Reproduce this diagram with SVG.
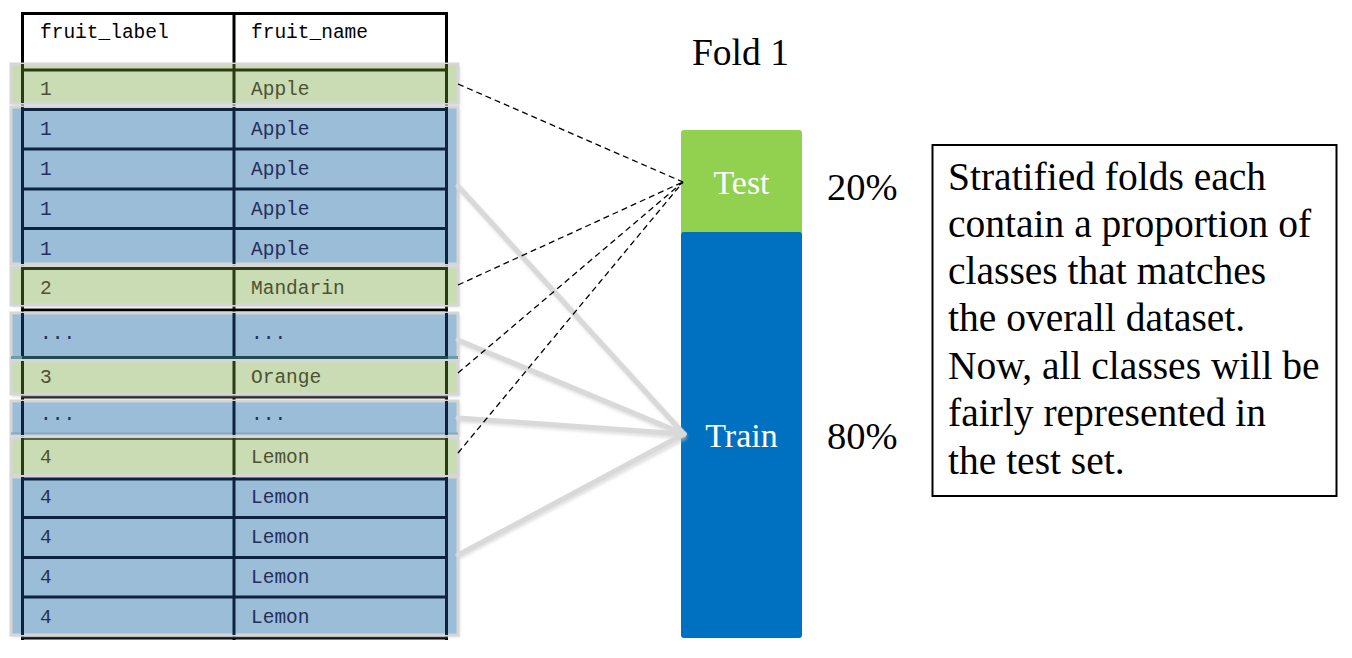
<svg xmlns="http://www.w3.org/2000/svg" width="1352" height="658" viewBox="0 0 1352 658">
<defs>
<style>
.mono{font-family:"Liberation Mono","Courier New",monospace;font-size:19.5px}
.serif{font-family:"Liberation Serif","Times New Roman",serif}
.gband{fill:#cadcb4;stroke:#d6d6d6;stroke-width:3}
.bband{fill:#9bbdd7;stroke:#d6d6d6;stroke-width:3}
.gl{stroke:#2c3a12;stroke-width:3}
.bl{stroke:#0c2440;stroke-width:3}
.kl{stroke:#000;stroke-width:3}
.gt{fill:#4c5232}
.bt{fill:#24305a}
.dash{stroke:#000;stroke-width:1.3;stroke-dasharray:6 4;fill:none}
.gray{stroke:#d9d9d9;stroke-width:5;fill:none;stroke-linecap:round}
.grayshadow{stroke:#bdbdbd;stroke-width:5;fill:none;opacity:0.45}
</style>
<filter id="sh" x="-5%" y="-5%" width="110%" height="110%">
<feGaussianBlur stdDeviation="1.5"/>
</filter>
</defs>
<rect width="1352" height="658" fill="#fff"/>

<!-- table background lines -->
<g id="header">
<rect x="22" y="12" width="425" height="52" fill="#fff"/>
<line class="kl" x1="21" y1="13.5" x2="448" y2="13.5"/>
<line class="kl" x1="22.5" y1="12" x2="22.5" y2="640"/>
<line class="kl" x1="234" y1="12" x2="234" y2="640"/>
<line class="kl" x1="446.5" y1="12" x2="446.5" y2="640"/>
<line class="kl" x1="21" y1="310" x2="448" y2="310"/>
<line class="kl" x1="21" y1="397" x2="448" y2="397"/>
<line class="kl" x1="21" y1="638" x2="448" y2="638"/>
<text class="mono" x="40" y="38" fill="#000">fruit_label</text>
<text class="mono" x="251" y="38" fill="#000">fruit_name</text>
</g>

<!-- band shadows -->
<g filter="url(#sh)" fill="#c8c8c8" opacity="0.6">
<rect x="12" y="66" width="448" height="40"/>
<rect x="12" y="109" width="448" height="157"/>
<rect x="12" y="268" width="448" height="39"/>
<rect x="12" y="315" width="448" height="47"/>
<rect x="12" y="364" width="448" height="33"/>
<rect x="12" y="403" width="448" height="34"/>
<rect x="12" y="440" width="448" height="37"/>
<rect x="12" y="479" width="448" height="158"/>
</g>

<g id="row-g1">
<rect class="gband" x="11" y="64" width="447" height="39"/>
<line class="gl" x1="22" y1="70" x2="448" y2="70"/>
<line class="gl" x1="22.5" y1="64" x2="22.5" y2="103"/>
<line class="gl" x1="234" y1="64" x2="234" y2="103"/>
<line class="gl" x1="446.5" y1="64" x2="446.5" y2="103"/>
<text class="mono gt" x="40" y="95">1</text>
<text class="mono gt" x="251" y="95">Apple</text>
</g>

<g id="row-b1">
<rect class="bband" x="11" y="107" width="447" height="157"/>
<line class="bl" x1="22" y1="109.5" x2="448" y2="109.5"/>
<line class="bl" x1="22" y1="149" x2="448" y2="149"/>
<line class="bl" x1="22" y1="189" x2="448" y2="189"/>
<line class="bl" x1="22" y1="228.5" x2="448" y2="228.5"/>
<line class="bl" x1="22.5" y1="107" x2="22.5" y2="264"/>
<line class="bl" x1="234" y1="107" x2="234" y2="264"/>
<line class="bl" x1="446.5" y1="107" x2="446.5" y2="264"/>
<text class="mono bt" x="40" y="135">1</text>
<text class="mono bt" x="251" y="135">Apple</text>
<text class="mono bt" x="40" y="175">1</text>
<text class="mono bt" x="251" y="175">Apple</text>
<text class="mono bt" x="40" y="215">1</text>
<text class="mono bt" x="251" y="215">Apple</text>
<text class="mono bt" x="40" y="255">1</text>
<text class="mono bt" x="251" y="255">Apple</text>
</g>

<g id="row-g2">
<rect class="gband" x="11" y="267" width="447" height="38"/>
<line class="gl" x1="22" y1="268.5" x2="448" y2="268.5"/>
<line class="gl" x1="22.5" y1="267" x2="22.5" y2="305"/>
<line class="gl" x1="234" y1="267" x2="234" y2="305"/>
<line class="gl" x1="446.5" y1="267" x2="446.5" y2="305"/>
<text class="mono gt" x="40" y="294">2</text>
<text class="mono gt" x="251" y="294">Mandarin</text>
</g>

<g id="row-b2">
<rect class="bband" x="11" y="313" width="447" height="47"/>
<line x1="11" y1="357.5" x2="458" y2="357.5" stroke="#6f9aa6" stroke-width="3"/>
<line x1="22" y1="357.5" x2="448" y2="357.5" stroke="#1f4a52" stroke-width="3"/>
<line class="bl" x1="22.5" y1="313" x2="22.5" y2="356"/>
<line class="bl" x1="234" y1="313" x2="234" y2="356"/>
<line class="bl" x1="446.5" y1="313" x2="446.5" y2="356"/>
<text class="mono bt" x="40" y="339">...</text>
<text class="mono bt" x="251" y="339">...</text>
</g>

<g id="row-g3">
<rect class="gband" x="11" y="361" width="447" height="33"/>
<line class="gl" x1="22.5" y1="361" x2="22.5" y2="394"/>
<line class="gl" x1="234" y1="361" x2="234" y2="394"/>
<line class="gl" x1="446.5" y1="361" x2="446.5" y2="394"/>
<text class="mono gt" x="40" y="383">3</text>
<text class="mono gt" x="251" y="383">Orange</text>
</g>

<g id="row-b3">
<rect class="bband" x="11" y="401" width="447" height="34"/>
<line x1="11" y1="433.5" x2="458" y2="433.5" stroke="#84a8be" stroke-width="2"/>
<line class="bl" x1="22.5" y1="401" x2="22.5" y2="435"/>
<line class="bl" x1="234" y1="401" x2="234" y2="435"/>
<line class="bl" x1="446.5" y1="401" x2="446.5" y2="435"/>
<text class="mono bt" x="40" y="420">...</text>
<text class="mono bt" x="251" y="420">...</text>
</g>

<g id="row-g4">
<rect class="gband" x="11" y="438" width="447" height="37"/>
<line x1="22" y1="439" x2="448" y2="439" stroke="#2c3a12" stroke-width="1.5"/>
<line class="gl" x1="22.5" y1="438" x2="22.5" y2="475"/>
<line class="gl" x1="234" y1="438" x2="234" y2="475"/>
<line class="gl" x1="446.5" y1="438" x2="446.5" y2="475"/>
<text class="mono gt" x="40" y="463">4</text>
<text class="mono gt" x="251" y="463">Lemon</text>
</g>

<g id="row-b4">
<rect class="bband" x="11" y="477" width="447" height="158"/>
<line class="bl" x1="22" y1="479" x2="448" y2="479"/>
<line class="bl" x1="22" y1="517.5" x2="448" y2="517.5"/>
<line class="bl" x1="22" y1="557.5" x2="448" y2="557.5"/>
<line class="bl" x1="22" y1="597" x2="448" y2="597"/>
<line class="bl" x1="22.5" y1="477" x2="22.5" y2="635"/>
<line class="bl" x1="234" y1="477" x2="234" y2="635"/>
<line class="bl" x1="446.5" y1="477" x2="446.5" y2="635"/>
<text class="mono bt" x="40" y="503">4</text>
<text class="mono bt" x="251" y="503">Lemon</text>
<text class="mono bt" x="40" y="543">4</text>
<text class="mono bt" x="251" y="543">Lemon</text>
<text class="mono bt" x="40" y="583">4</text>
<text class="mono bt" x="251" y="583">Lemon</text>
<text class="mono bt" x="40" y="623">4</text>
<text class="mono bt" x="251" y="623">Lemon</text>
</g>

<g id="fold-title">
<text class="serif" x="692" y="65" font-size="37.5" fill="#000">Fold 1</text>
</g>

<g id="test-box">
<rect x="681" y="130" width="121" height="106" rx="3" fill="#92d050"/>
<text class="serif" x="741.5" y="194" font-size="34" fill="#fff" text-anchor="middle">Test</text>
</g>
<g id="train-box">
<rect x="681" y="232" width="121" height="406" rx="3" fill="#0070c0"/>
<text class="serif" x="741.5" y="447" font-size="34" fill="#fff" text-anchor="middle">Train</text>
</g>

<g id="pct">
<text class="serif" x="827" y="200" font-size="38.5" fill="#000">20%</text>
<text class="serif" x="827" y="449" font-size="38.5" fill="#000">80%</text>
</g>

<g id="note">
<rect x="932.5" y="145" width="404" height="351" fill="#fff" stroke="#000" stroke-width="2"/>
<text class="serif" font-size="39.5" fill="#000">
<tspan x="948" y="190">Stratified folds each</tspan>
<tspan x="948" y="237">contain a proportion of</tspan>
<tspan x="948" y="284">classes that matches</tspan>
<tspan x="948" y="331">the overall dataset.</tspan>
<tspan x="948" y="379">Now, all classes will be</tspan>
<tspan x="948" y="426">fairly represented in</tspan>
<tspan x="948" y="474">the test set.</tspan>
</text>
</g>

<g id="connectors">
<g filter="url(#sh)">
<line class="grayshadow" x1="459" y1="188" x2="686" y2="437"/>
<line class="grayshadow" x1="459" y1="342" x2="686" y2="437"/>
<line class="grayshadow" x1="459" y1="420" x2="686" y2="437"/>
<line class="grayshadow" x1="459" y1="557" x2="686" y2="437"/>
</g>
<line class="gray" x1="458" y1="186" x2="684" y2="434"/>
<line class="gray" x1="458" y1="340" x2="684" y2="434"/>
<line class="gray" x1="458" y1="418" x2="684" y2="434"/>
<line class="gray" x1="458" y1="555" x2="684" y2="434"/>
<line class="dash" x1="458" y1="84" x2="683" y2="182"/>
<line class="dash" x1="458" y1="285" x2="683" y2="182"/>
<line class="dash" x1="458" y1="373" x2="683" y2="182"/>
<line class="dash" x1="458" y1="453" x2="683" y2="182"/>
</g>
</svg>
